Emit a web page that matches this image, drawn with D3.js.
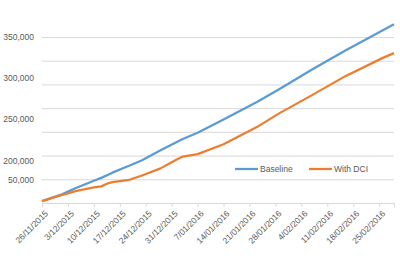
<!DOCTYPE html>
<html>
<head>
<meta charset="utf-8">
<script src="https://cdn.jsdelivr.net/npm/d3@7"></script>
<style>
  body { margin: 0; background: #fff; }
  text { font-family: "Liberation Sans", Arial, sans-serif; fill: #595959; }
</style>
</head>
<body>
<div id="chart"></div>
<script>
// dates (d/m/yyyy)
const dates = ['26/11/2015', '1/12/2015', '3/12/2015', '5/12/2015', '10/12/2015', '12/12/2015',
  '14/12/2015', '15/12/2015', '19/12/2015', '20/12/2015', '23/12/2015', '28/12/2015',
  '1/01/2016', '3/01/2016', '7/01/2016', '14/01/2016', '23/01/2016', '29/01/2016',
  '7/02/2016', '16/02/2016', '26/02/2016', '29/02/2016'];
const baseline = [4000, 17000, 24000, 31000, 47000, 53000, 60000, 64000, 77000, 80000, 90000, 111000,
  127000, 135000, 148000, 176000, 213000, 240000, 282000, 322000, 364000, 377000];
const withDCI = [4000, 16000, 20000, 25000, 33000, 35000, 42000, 44000, 48000, 50000, 58000, 73000,
  90000, 98000, 103000, 124000, 160000, 189000, 228000, 268000, 306000, 316000];

// x tick labels (weekly)
const xTickLabels = ['26/11/2015', '3/12/2015', '10/12/2015', '17/12/2015', '24/12/2015', '31/12/2015',
  '7/01/2016', '14/01/2016', '21/01/2016', '28/01/2016', '4/02/2016', '11/02/2016', '18/02/2016', '25/02/2016'];
// y labels as they appear on the picture, with the value level each sits at
const yTickLabels = ['350,000', '300,000', '250,000', '200,000', '50,000'];
const yTickLevels = [350000, 264000, 177000, 88000, 48500];

const seriesNames = ['Baseline', 'With DCI'];
const colors = ['#5B9BD5', '#ED7D31'];

const parse = d3.timeParse('%d/%m/%Y');
const fmt = d3.timeFormat('%-d/%m/%Y');

const svgWidth = 400, svgHeight = 269;
const svg = d3.select('#chart').append('svg')
  .attr('width', svgWidth).attr('height', svgHeight);

const x = d3.scaleTime()
  .domain([parse(dates[0]), parse(dates[dates.length - 1])])
  .range([42, 394]);
const y = d3.scaleLinear().domain([0, 350000]).range([203, 37]);

// gridlines
svg.append('g')
  .call(d3.axisLeft(y).tickValues(d3.range(50000, 350001, 50000)).tickSize(-(394 - 42)).tickFormat(''))
  .attr('transform', 'translate(42,0)')
  .call(g => g.select('.domain').remove())
  .call(g => g.selectAll('line').attr('stroke', '#d9d9d9'));

// y labels
svg.append('g')
  .selectAll('text')
  .data(yTickLabels)
  .enter()
  .append('text')
  .attr('x', 34)
  .attr('y', (d, i) => y(yTickLevels[i]))
  .attr('dy', '0.35em')
  .attr('text-anchor', 'end')
  .style('font-size', '8.5px')
  .text(d => d);

// x axis
const xAxis = svg.append('g')
  .attr('transform', 'translate(0,203)')
  .call(d3.axisBottom(x).tickValues(xTickLabels.map(parse)).tickSize(4).tickFormat(fmt));
xAxis.select('.domain').attr('stroke', '#d9d9d9');
xAxis.selectAll('line').attr('stroke', '#d9d9d9');
xAxis.selectAll('text')
  .attr('fill', '#595959')
  .style('font-size', '8.5px')
  .style('font-family', '"Liberation Sans", Arial, sans-serif')
  .attr('text-anchor', 'end')
  .attr('transform', 'translate(4,9) rotate(-45)')
  .attr('x', 0)
  .attr('y', 0)
  .attr('dy', '0.35em');

// lines
const line = d3.line()
  .x((d, i) => x(parse(dates[i])))
  .y(d => y(d));

[baseline, withDCI].forEach((s, i) => {
  svg.append('path')
    .datum(s)
    .attr('fill', 'none')
    .attr('stroke', colors[i])
    .attr('stroke-width', 2.25)
    .attr('stroke-linejoin', 'round')
    .attr('d', line);
});

// legend
const legendX = [235, 309];
seriesNames.forEach((name, i) => {
  const g = svg.append('g').attr('transform', `translate(${legendX[i]},169)`);
  g.append('line').attr('x1', 0).attr('x2', 23).attr('y1', 0).attr('y2', 0)
    .attr('stroke', colors[i]).attr('stroke-width', 2.25);
  g.append('text').attr('x', 25).attr('y', 0).attr('dy', '0.35em')
    .style('font-size', '8.5px').text(name);
});
</script>
</body>
</html>
